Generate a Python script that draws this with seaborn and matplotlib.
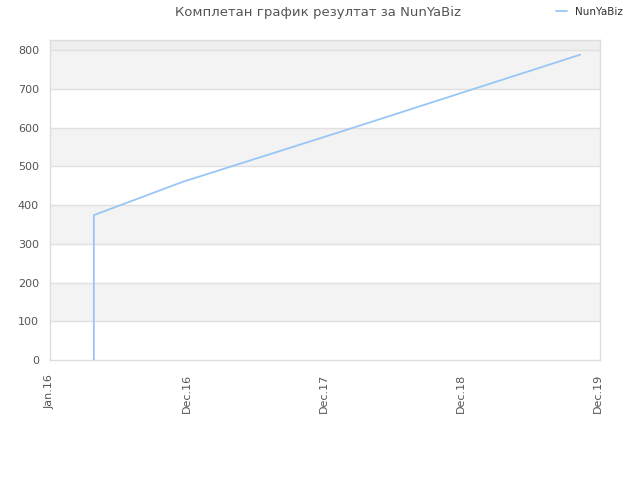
import matplotlib
matplotlib.use("Agg")
import matplotlib.pyplot as plt
import seaborn as sns
import pandas as pd

# ==================================================
# DATA (x in tick intervals: Jan.16 = 0, Dec.16 = 1, ...)
# ==================================================
tick_labels = ["Jan.16", "Dec.16", "Dec.17", "Dec.18", "Dec.19"]
tick_pos = [0, 1, 2, 3, 4]
x_pos = [0.32, 0.32, 0.97, 2.12, 3.87]
scores = [0, 374, 460, 589, 788]
player = "NunYaBiz"

df = pd.DataFrame({"x": x_pos, "score": scores})

# ==================================================
# STYLE
# ==================================================
sns.set_theme(style="white")
plt.rcParams["font.family"] = ["DejaVu Sans"]

text_col = "#555555"
line_col = "#99c6f5"

fig = plt.figure(figsize=(6.4, 4.8), dpi=100)
ax = fig.add_axes([50 / 640, 1 - 360 / 480, 550 / 640, 320 / 480])

# alternating bands
for lo in range(100, 800, 200):
    ax.axhspan(lo, lo + 100, color="#f3f3f3", zorder=0, lw=0)
ax.axhspan(800, 900, color="#eeeeee", zorder=0, lw=0)
for v in range(100, 900, 100):
    ax.axhline(v, color="#e0e0e0", lw=1, zorder=1)

sns.lineplot(data=df, x="x", y="score", sort=False, estimator=None,
             color=line_col, lw=1.3, ax=ax, label=player, zorder=3)

ax.set_xlim(0, 4.015)
ax.set_ylim(0, 826)
ax.set_xticks(tick_pos)
ax.set_xticklabels(tick_labels, rotation=90, fontsize=8, color=text_col)
ax.set_yticks(range(0, 900, 100))
ax.set_yticklabels([str(v) for v in range(0, 900, 100)], fontsize=8, color=text_col)
ax.tick_params(axis="y", length=0, pad=8)
ax.tick_params(axis="x", length=0, pad=10)
ax.set_xlabel("")
ax.set_ylabel("")
for s in ax.spines.values():
    s.set_color("#dddddd")
    s.set_linewidth(1)

ax.get_legend().remove()
fig.legend(loc="upper right", bbox_to_anchor=(0.988, 1.005), frameon=False,
           fontsize=7.5, handlelength=1.0, handletextpad=0.8,
           labelcolor="#333333")

fig.suptitle("Комплетан график резултат за " + player, x=0.497, y=0.987,
             fontsize=9.5, color=text_col)

fig.savefig("out.png", dpi=100)
